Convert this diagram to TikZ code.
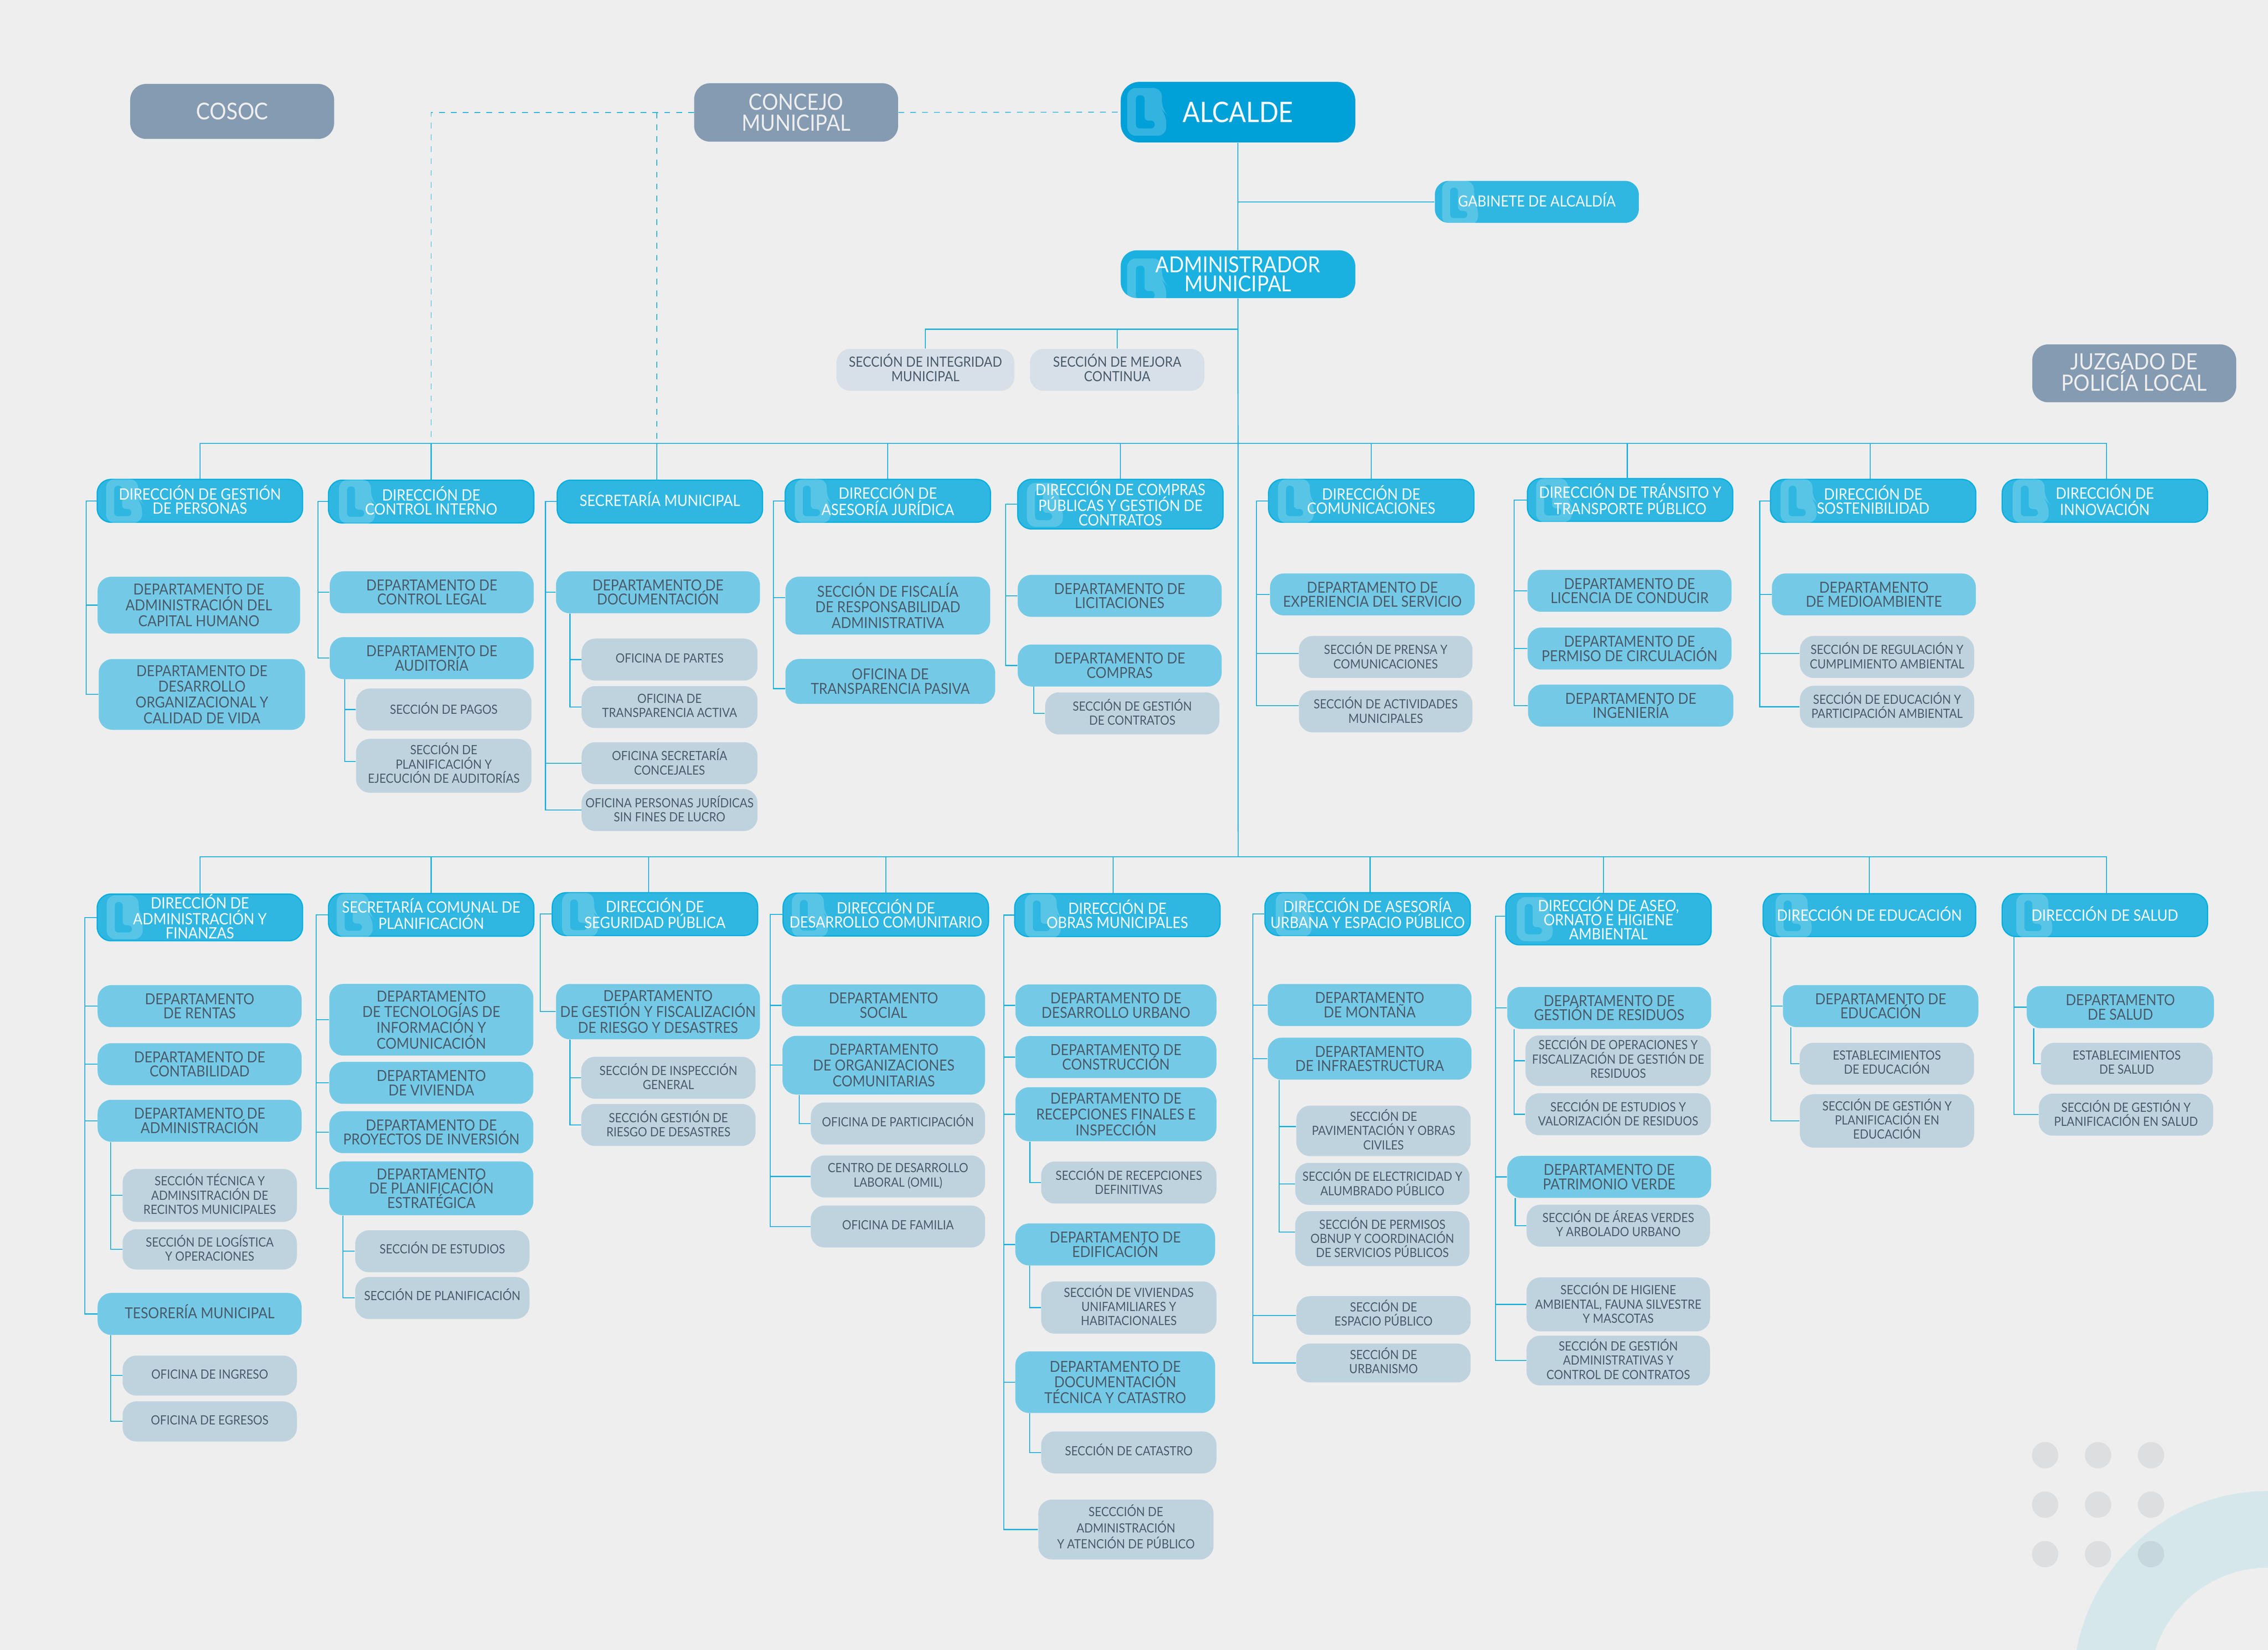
\documentclass[tikz,border=0pt]{standalone}
\usepackage{fontspec}
\setmainfont[FakeStretch=.9]{Lato}
\definecolor{pagebg}{HTML}{EEEEEE}
\definecolor{ringc}{HTML}{D5E7EB}
\definecolor{dotc}{HTML}{5A6E80}
\definecolor{greyc}{HTML}{859BB2}
\definecolor{alcaldec}{HTML}{00A0D8}
\definecolor{adminc}{HTML}{1AB1E0}
\definecolor{dirc}{HTML}{2FB7E1}
\definecolor{dirline}{HTML}{00AEDF}
\definecolor{deptc}{HTML}{74CAE6}
\definecolor{secc}{HTML}{BFD3DF}
\definecolor{topsecc}{HTML}{D7E0E8}
\definecolor{inkc}{HTML}{4A5A6A}
\definecolor{linkc}{HTML}{1AB0DE}
% watermark of the direction boxes: scale, node, left, top
\newcommand{\lgmark}[4][.92]{%
  \begin{scope}
    \clip[rounded corners=9.5pt] (#2.south west) rectangle (#2.north east);
    \fill[white, fill opacity=.2, even odd rule, shift={(#3,#4)}, scale=#1]
      [rounded corners=6pt] (0,0) -- (24,0) -- (24,15) -- (27,18) -- (27,33) -- (0,33) -- cycle
      [rounded corners=2.5pt] (6,5) -- (12,5) -- (12,22.5) -- (19,22.5) -- (19,28) -- (6,28) -- cycle;
  \end{scope}}
\begin{document}
\begin{tikzpicture}[x=1pt, y=-1pt,
  box/.style={rectangle, rounded corners=9.5pt, inner sep=0pt, align=center},
  topbox/.style={box, rounded corners=11pt, minimum width=141pt, minimum height=40pt, fill=greyc, text=pagebg, font={\fontsize{15.5}{14.6}\selectfont}},
  dirbox/.style={box, minimum width=142pt, minimum height=29.6pt, fill=dirc, draw=dirline, line width=.8pt, text=white, text depth=1.4pt, font={\fontsize{10.8}{9.8}\selectfont}},
  deptbox/.style={box, minimum width=141pt, minimum height=29pt, fill=deptc, text=inkc, font={\fontsize{10.5}{9.9}\selectfont}},
  secbox/.style={box, minimum width=120.5pt, minimum height=29pt, fill=secc, text=inkc, text depth=2pt, font={\fontsize{8.8}{9.8}\selectfont}},
  loosedept/.style={font={\fontsize{10.5}{10.9}\selectfont}},
  loosesec/.style={font={\fontsize{8.8}{11.2}\selectfont}},
  link/.style={draw=linkc, line width=.7pt},
  dashlink/.style={draw=linkc, line width=.5pt, dash pattern=on 4pt off 4.2pt}]

  \useasboundingbox (0,0) rectangle (1568,1140.2);
  \fill[pagebg] (0,0) rectangle (1568,1140.2);

  % corner ornament
  \begin{scope}
    \clip (0,0) rectangle (1568,1140.2);
    \fill[ringc, even odd rule] (1568,1165) circle[radius=134.6pt] (1568,1165) circle[radius=81.7pt];
  \end{scope}
  \foreach \x in {1413.9,1450.5,1487.1}
    \foreach \y in {1005.6,1039.8,1074}
      \fill[dotc, fill opacity=.12] (\x,\y) circle[radius=9.1pt];

  % top of the chart
  \node[topbox, minimum height=38pt, font={\fontsize{16}{16}\selectfont}] (cosoc) at (160.5,77) {COSOC};
  \node[topbox, minimum height=40.4pt] (concejo) at (550.4,77.7) {CONCEJO\\MUNICIPAL};
  \node[box, rounded corners=13pt, minimum width=162.2pt, minimum height=41.9pt, fill=alcaldec, text=white, font={\fontsize{19.5}{19.5}\selectfont}] (alcalde) at (855.9,77.5) {ALCALDE};
  \node[dirbox, minimum width=141pt, minimum height=29pt, draw=none, text depth=3pt, font={\fontsize{10.6}{10}\selectfont}] (gabinete) at (1062.5,139.5) {GABINETE DE ALCALDÍA};
  \node[box, rounded corners=11pt, minimum width=162.2pt, minimum height=33pt, fill=adminc, text=white, font={\fontsize{15.2}{13.3}\selectfont}] (admin) at (855.9,189.5) {ADMINISTRADOR\\MUNICIPAL};
  \node[secbox, minimum width=123pt, fill=topsecc, text depth=3pt, font={\fontsize{9.7}{9.8}\selectfont}] (sintegridad) at (639.8,255.6) {SECCIÓN DE INTEGRIDAD\\MUNICIPAL};
  \node[secbox, minimum width=120.6pt, fill=topsecc, text depth=3pt, font={\fontsize{9.7}{9.8}\selectfont}] (smejora) at (772.4,255.6) {SECCIÓN DE MEJORA\\CONTINUA};
  \node[topbox, text depth=1.5pt] (juzgado) at (1475.5,258) {JUZGADO DE\\POLICÍA LOCAL};

  \coordinate (rowsec) at (856,227.5);
  \coordinate (rowa) at (856,306.5);
  \coordinate (rowb) at (856,592);
  \coordinate (dashb) at (454,77.7);

  % first row of directions
  \node[dirbox] (dirpers) at (138.2,346.1) {DIRECCIÓN DE GESTIÓN\\DE PERSONAS};
  \node[dirbox] (dirinterno) at (298.1,346.6) {DIRECCIÓN DE\\CONTROL INTERNO};
  \node[dirbox, text depth=3.5pt] (dirsecmun) at (456.2,346.6) {SECRETARÍA MUNICIPAL};
  \node[dirbox] (dirjuridica) at (613.8,346.1) {DIRECCIÓN DE\\ASESORÍA JURÍDICA};
  \node[dirbox, minimum height=34.3pt] (dircompras) at (774.6,348.4) {DIRECCIÓN DE COMPRAS\\PÚBLICAS Y GESTIÓN DE\\CONTRATOS};
  \node[dirbox] (dircomunic) at (948,346.1) {DIRECCIÓN DE\\COMUNICACIONES};
  \node[dirbox] (dirtransito) at (1127,345.5) {DIRECCIÓN DE TRÁNSITO Y\\TRANSPORTE PÚBLICO};
  \node[dirbox] (dirsosten) at (1295,346.1) {DIRECCIÓN DE\\SOSTENIBILIDAD};
  \node[dirbox] (dirinnov) at (1455.2,346.1) {DIRECCIÓN DE\\INNOVACIÓN};

  \node[deptbox, loosedept, minimum width=140pt, minimum height=39.3pt] (dpcapital) at (137.5,418.2) {DEPARTAMENTO DE\\ADMINISTRACIÓN DEL\\CAPITAL HUMANO};
  \node[deptbox, loosedept, minimum width=142.7pt, minimum height=48.9pt] (dpdesarrollo) at (139.6,479.9) {DEPARTAMENTO DE\\DESARROLLO\\ORGANIZACIONAL Y\\CALIDAD DE VIDA};

  \node[deptbox] (dplegal) at (298.5,409.3) {DEPARTAMENTO DE\\CONTROL LEGAL};
  \node[deptbox] (dpauditoria) at (298.5,454.8) {DEPARTAMENTO DE\\AUDITORÍA};
  \node[secbox, minimum width=121.3pt] (spagos) at (306.8,490.3) {SECCIÓN DE PAGOS};
  \node[secbox, minimum width=121.3pt, minimum height=37.2pt, text depth=4pt] (splanifaud) at (306.8,529.2) {SECCIÓN DE\\PLANIFICACIÓN Y\\EJECUCIÓN DE AUDITORÍAS};

  \node[deptbox] (dpdocum) at (454.9,409.3) {DEPARTAMENTO DE\\DOCUMENTACIÓN};
  \node[secbox, minimum width=121.6pt] (opartes) at (462.9,455.8) {OFICINA DE PARTES};
  \node[secbox, minimum width=121.6pt] (oactiva) at (462.9,488.6) {OFICINA DE\\TRANSPARENCIA ACTIVA};
  \node[secbox, minimum width=121.6pt] (oconcejales) at (462.9,527.4) {OFICINA SECRETARÍA\\CONCEJALES};
  \node[secbox, minimum width=121.6pt] (ojuridicas) at (462.9,559.8) {OFICINA PERSONAS JURÍDICAS\\SIN FINES DE LUCRO};

  \node[deptbox, loosedept, minimum width=141.5pt, minimum height=40pt] (sfiscalia) at (613.8,418.5) {SECCIÓN DE FISCALÍA\\DE RESPONSABILIDAD\\ADMINISTRATIVA};
  \node[deptbox, minimum width=145pt, minimum height=31pt] (otranspasiva) at (615.5,470.9) {OFICINA DE\\TRANSPARENCIA PASIVA};

  \node[deptbox] (dplicit) at (774.1,411.8) {DEPARTAMENTO DE\\LICITACIONES};
  \node[deptbox] (dpcompras) at (774.1,459.9) {DEPARTAMENTO DE\\COMPRAS};
  \node[secbox] (scontratos) at (782.8,493) {SECCIÓN DE GESTIÓN\\DE CONTRATOS};

  \node[deptbox, minimum width=141.5pt] (dpexperiencia) at (948.8,410.8) {DEPARTAMENTO DE\\EXPERIENCIA DEL SERVICIO};
  \node[secbox, minimum width=120pt] (sprensa) at (958,454) {SECCIÓN DE PRENSA Y\\COMUNICACIONES};
  \node[secbox, minimum width=120pt] (sactiv) at (958,491.6) {SECCIÓN DE ACTIVIDADES\\MUNICIPALES};

  \node[deptbox] (dplicencia) at (1126.6,408.3) {DEPARTAMENTO DE\\LICENCIA DE CONDUCIR};
  \node[deptbox] (dppermiso) at (1126.6,448.2) {DEPARTAMENTO DE\\PERMISO DE CIRCULACIÓN};
  \node[deptbox, minimum width=142pt] (dpingenieria) at (1127.4,487.6) {DEPARTAMENTO DE\\INGENIERÍA};

  \node[deptbox] (dpmedio) at (1295.5,410.8) {DEPARTAMENTO\\DE MEDIOAMBIENTE};
  \node[secbox] (sregul) at (1304.6,454) {SECCIÓN DE REGULACIÓN Y\\CUMPLIMIENTO AMBIENTAL};
  \node[secbox] (seduamb) at (1304.6,488.4) {SECCIÓN DE EDUCACIÓN Y\\PARTICIPACIÓN AMBIENTAL};

  % second row of directions
  \node[dirbox, minimum height=32pt] (dirfinanzas) at (138.2,634) {DIRECCIÓN DE\\ADMINISTRACIÓN Y\\FINANZAS};
  \node[dirbox] (dirplanif) at (298.1,632.2) {SECRETARÍA COMUNAL DE\\PLANIFICACIÓN};
  \node[dirbox] (dirseguridad) at (452.8,631.7) {DIRECCIÓN DE\\SEGURIDAD PÚBLICA};
  \node[dirbox] (dircomunit) at (612.4,632) {DIRECCIÓN DE\\DESARROLLO COMUNITARIO};
  \node[dirbox] (dirobras) at (772.5,632.4) {DIRECCIÓN DE\\OBRAS MUNICIPALES};
  \node[dirbox] (dirurbana) at (945.5,631.7) {DIRECCIÓN DE ASESORÍA\\URBANA Y ESPACIO PÚBLICO};
  \node[dirbox, minimum height=35.5pt] (diraseo) at (1112,635.2) {DIRECCIÓN DE ASEO,\\ORNATO E HIGIENE\\AMBIENTAL};
  \node[dirbox, minimum width=147pt, text depth=2pt] (direduc) at (1292.4,632.4) {DIRECCIÓN DE EDUCACIÓN};
  \node[dirbox, text depth=2pt] (dirsalud) at (1455.2,632.4) {DIRECCIÓN DE SALUD};

  \node[deptbox] (dprentas) at (138,695.3) {DEPARTAMENTO\\DE RENTAS};
  \node[deptbox] (dpcontab) at (138,735.4) {DEPARTAMENTO DE\\CONTABILIDAD};
  \node[deptbox] (dpadmin) at (138,774.5) {DEPARTAMENTO DE\\ADMINISTRACIÓN};
  \node[secbox, minimum height=36.6pt] (stecnica) at (145,826.1) {SECCIÓN TÉCNICA Y\\ADMINSITRACIÓN DE\\RECINTOS MUNICIPALES};
  \node[secbox, minimum height=27.8pt] (slogist) at (145,863.4) {SECCIÓN DE LOGÍSTICA\\Y OPERACIONES};
  \node[deptbox, text depth=3.5pt] (dptesor) at (138,908) {TESORERÍA MUNICIPAL};
  \node[secbox, minimum height=27.6pt] (oingreso) at (145,950.6) {OFICINA DE INGRESO};
  \node[secbox, minimum height=27.7pt] (oegreso) at (145,982.3) {OFICINA DE EGRESOS};

  \node[deptbox, loosedept, minimum height=49.5pt] (dptecno) at (298.2,704.7) {DEPARTAMENTO\\DE TECNOLOGÍAS DE\\INFORMACIÓN Y\\COMUNICACIÓN};
  \node[deptbox] (dpvivienda) at (298.2,748.3) {DEPARTAMENTO\\DE VIVIENDA};
  \node[deptbox] (dpproyectos) at (298.2,782.4) {DEPARTAMENTO DE\\PROYECTOS DE INVERSIÓN};
  \node[deptbox, minimum height=37.2pt] (dpplanest) at (298.2,821.2) {DEPARTAMENTO\\DE PLANIFICACIÓN\\ESTRATÉGICA};
  \node[secbox, text depth=5pt] (sestudios) at (305.8,864.7) {SECCIÓN DE ESTUDIOS};
  \node[secbox, text depth=5pt] (splanific) at (305.8,897) {SECCIÓN DE PLANIFICACIÓN};

  \node[deptbox, loosedept, minimum height=38.2pt] (dpgestfisc) at (454.9,699.1) {DEPARTAMENTO\\DE GESTIÓN Y FISCALIZACIÓN\\DE RIESGO Y DESASTRES};
  \node[secbox] (sinspec) at (462.1,744.8) {SECCIÓN DE INSPECCIÓN\\GENERAL};
  \node[secbox] (sriesgo) at (462.1,777.4) {SECCIÓN GESTIÓN DE\\RIESGO DE DESASTRES};

  \node[deptbox, minimum width=140.5pt] (dpsocial) at (610.8,694.8) {DEPARTAMENTO\\SOCIAL};
  \node[deptbox, loosedept, minimum width=140pt, minimum height=40.5pt] (dporganiz) at (611,736.1) {DEPARTAMENTO\\DE ORGANIZACIONES\\COMUNITARIAS};
  \node[secbox, text depth=4pt] (opartic) at (620.8,776.4) {OFICINA DE PARTICIPACIÓN};
  \node[secbox] (ocentro) at (620.8,813) {CENTRO DE DESARROLLO\\LABORAL (OMIL)};
  \node[secbox] (ofamilia) at (620.8,847.6) {OFICINA DE FAMILIA};

  \node[deptbox, minimum width=139pt] (dpurbano) at (771.5,694.8) {DEPARTAMENTO DE\\DESARROLLO URBANO};
  \node[deptbox, minimum width=139pt] (dpconstr) at (771.5,730.5) {DEPARTAMENTO DE\\CONSTRUCCIÓN};
  \node[deptbox, loosedept, minimum width=139pt, minimum height=37.3pt] (dprecep) at (771.5,770) {DEPARTAMENTO DE\\RECEPCIONES FINALES E\\INSPECCIÓN};
  \node[secbox, minimum width=121.2pt] (srecep) at (780.4,817.2) {SECCIÓN DE RECEPCIONES\\DEFINITIVAS};
  \node[deptbox, minimum width=138.1pt] (dpedif) at (771,860) {DEPARTAMENTO DE\\EDIFICACIÓN};
  \node[secbox, minimum width=121.2pt, minimum height=36.1pt, text depth=3pt] (sviviendas) at (780.4,903.6) {SECCIÓN DE VIVIENDAS\\UNIFAMILIARES Y\\HABITACIONALES};
  \node[deptbox, loosedept, minimum width=138.1pt, minimum height=42.5pt] (dptecnica) at (771,955.2) {DEPARTAMENTO DE\\DOCUMENTACIÓN\\TÉCNICA Y CATASTRO};
  \node[secbox, minimum width=121.2pt, text depth=4pt] (scatastro) at (780.4,1003.7) {SECCIÓN DE CATASTRO};
  \node[secbox, loosesec, minimum width=121.1pt, minimum height=41.4pt, text depth=4pt] (satencion) at (778.4,1057) {SECCCIÓN DE\\ADMINISTRACIÓN\\Y ATENCIÓN DE PÚBLICO};

  \node[deptbox, minimum width=140.8pt] (dpmontana) at (946.9,694.5) {DEPARTAMENTO\\DE MONTAÑA};
  \node[deptbox, minimum width=140.8pt] (dpinfra) at (946.9,731.6) {DEPARTAMENTO\\DE INFRAESTRUCTURA};
  \node[secbox, minimum height=34.9pt] (spavim) at (956.5,781.5) {SECCIÓN DE\\PAVIMENTACIÓN Y OBRAS\\CIVILES};
  \node[secbox] (selectr) at (955.7,818.1) {SECCIÓN DE ELECTRICIDAD Y\\ALUMBRADO PÚBLICO};
  \node[secbox, minimum height=37.9pt] (spermisos) at (955.7,856) {SECCIÓN DE PERMISOS\\OBNUP Y COORDINACIÓN\\DE SERVICIOS PÚBLICOS};
  \node[secbox, minimum height=26.8pt, text depth=3.5pt] (sespacio) at (956.5,909.1) {SECCIÓN DE\\ESPACIO PÚBLICO};
  \node[secbox, minimum height=26.9pt, text depth=3.5pt] (surbanismo) at (956.5,941.9) {SECCIÓN DE\\URBANISMO};

  \node[deptbox] (dpresiduos) at (1112.5,696.5) {DEPARTAMENTO DE\\GESTIÓN DE RESIDUOS};
  \node[secbox, minimum width=128.1pt, minimum height=34.9pt, text depth=4pt] (soperac) at (1118.7,733) {SECCIÓN DE OPERACIONES Y\\FISCALIZACIÓN DE GESTIÓN DE\\RESIDUOS};
  \node[secbox, minimum width=128.1pt] (sestres) at (1118.7,770) {SECCIÓN DE ESTUDIOS Y\\VALORIZACIÓN DE RESIDUOS};
  \node[deptbox] (dppatrimonio) at (1112.5,813.3) {DEPARTAMENTO DE\\PATRIMONIO VERDE};
  \node[secbox, minimum width=126.8pt, text depth=3pt] (sareas) at (1118.8,847) {SECCIÓN DE ÁREAS VERDES\\Y ARBOLADO URBANO};
  \node[secbox, minimum width=126.8pt, minimum height=37.3pt] (shigiene) at (1118.8,901.4) {SECCIÓN DE HIGIENE\\AMBIENTAL, FAUNA SILVESTRE\\Y MASCOTAS};
  \node[secbox, minimum width=126.8pt, minimum height=34.4pt] (sgestadm) at (1118.8,940.2) {SECCIÓN DE GESTIÓN\\ADMINISTRATIVAS Y\\CONTROL DE CONTRATOS};

  \node[deptbox, minimum width=135.1pt] (dpeduc) at (1300.2,695.3) {DEPARTAMENTO DE\\EDUCACIÓN};
  \node[secbox] (sestedu) at (1304.5,735.1) {ESTABLECIMIENTOS\\DE EDUCACIÓN};
  \node[secbox, minimum height=36.9pt, text depth=3pt] (sgestedu) at (1304.6,774.6) {SECCIÓN DE GESTIÓN Y\\PLANIFICACIÓN EN\\EDUCACIÓN};

  \node[deptbox, minimum width=129.4pt] (dpsalud) at (1465.9,696) {DEPARTAMENTO\\DE SALUD};
  \node[secbox, minimum width=118.7pt] (sestsal) at (1470.3,735.1) {ESTABLECIMIENTOS\\DE SALUD};
  \node[secbox] (sgestsal) at (1469.8,770.3) {SECCIÓN DE GESTIÓN Y\\PLANIFICACIÓN EN SALUD};

  % watermarks
  \lgmark[1]{alcalde}{779.3}{60.8}
  \lgmark[1]{admin}{779.3}{178.6}
  \lgmark{gabinete}{997}{125}
  \lgmark{dirpers}{73.4}{331}
  \lgmark{dirinterno}{234.4}{331.5}
  \lgmark{dirjuridica}{549.5}{331}
  \lgmark{dircompras}{710}{333.7}
  \lgmark{dircomunic}{883.5}{331}
  \lgmark{dirtransito}{1062}{330.5}
  \lgmark{dirsosten}{1231}{331}
  \lgmark{dirinnov}{1391.5}{331}
  \lgmark{dirfinanzas}{73.8}{618.7}
  \lgmark{dirplanif}{232.8}{617.5}
  \lgmark{dirseguridad}{388.6}{617}
  \lgmark{dircomunit}{547.5}{617.3}
  \lgmark{dirobras}{708.5}{617.7}
  \lgmark{dirurbana}{882}{617}
  \lgmark{diraseo}{1048.6}{620}
  \lgmark{direduc}{1227.6}{617.7}
  \lgmark{dirsalud}{1394}{617.7}

  % spine
  \draw[link] (alcalde.south) -- (admin.north);
  \draw[link] (alcalde.south |- gabinete.west) -- (gabinete.west);
  \draw[link] (admin.south) -- (rowb);
  \draw[link] (rowsec) -| (sintegridad.north);
  \draw[link] (rowsec) -| (smejora.north);
  \draw[dashlink] (concejo.east) -- (alcalde.west);
  \draw[dashlink] (concejo.west) -| (dirinterno.north |- rowa);
  \draw[dashlink] (dashb) -- (dashb |- rowa);

  \draw[link] (rowa) -| (dirpers.north);
  \draw[link] (rowa) -| (dirinterno.north);
  \draw[link] (rowa) -| ([xshift=-2pt]dirsecmun.north);
  \draw[link] (rowa) -| (dirjuridica.north);
  \draw[link] (rowa) -| (dircompras.north);
  \draw[link] (rowa) -| (dircomunic.north);
  \draw[link] (rowa) -| ([xshift=-2pt]dirtransito.north);
  \draw[link] (rowa) -| ([xshift=-2pt]dirsosten.north);
  \draw[link] (rowa) -| ([xshift=1.2pt]dirinnov.north);

  \draw[link] (rowb) -| (dirfinanzas.north);
  \draw[link] (rowb) -| (dirplanif.north);
  \draw[link] (rowb) -| ([xshift=-4.3pt]dirseguridad.north);
  \draw[link] (rowb) -| (dircomunit.north);
  \draw[link] (rowb) -| ([xshift=-2.9pt]dirobras.north);
  \draw[link] (rowb) -| ([xshift=1.7pt]dirurbana.north);
  \draw[link] (rowb) -| ([xshift=-3.5pt]diraseo.north);
  \draw[link] (rowb) -| (direduc.north);
  \draw[link] (rowb) -| ([xshift=1.2pt]dirsalud.north);

  % first row, branches
  \draw[link] (dirpers.west) -- ++(-7.2,0) |- (dpcapital.west);
  \draw[link] (dirpers.west) -- ++(-7.2,0) |- (dpdesarrollo.west);

  \draw[link] (dirinterno.west) -- ++(-6.8,0) |- (dplegal.west);
  \draw[link] (dirinterno.west) -- ++(-6.8,0) |- (dpauditoria.west);
  \draw[link] ([xshift=10.5pt]dpauditoria.south west) |- (spagos.west);
  \draw[link] ([xshift=10.5pt]dpauditoria.south west) |- ([yshift=3pt]splanifaud.west);

  \draw[link] (dirsecmun.west) -- ++(-7.7,0) |- (dpdocum.west);
  \draw[link] (dirsecmun.west) -- ++(-7.7,0) |- (oconcejales.west);
  \draw[link] (dirsecmun.west) -- ++(-7.7,0) |- (ojuridicas.west);
  \draw[link] ([xshift=9.8pt]dpdocum.south west) |- (opartes.west);
  \draw[link] ([xshift=9.8pt]dpdocum.south west) |- (oactiva.west);

  \draw[link] (dirjuridica.west) -- ++(-7.8,0) |- ([yshift=5.5pt]sfiscalia.west);
  \draw[link] (dirjuridica.west) -- ++(-7.8,0) |- ([yshift=-5pt]otranspasiva.west);

  \draw[link] (dircompras.west) -- ++(-7.9,0) |- (dplicit.west);
  \draw[link] (dircompras.west) -- ++(-7.9,0) |- (dpcompras.west);
  \draw[link] ([xshift=11.3pt]dpcompras.south west) |- (scontratos.west);

  \draw[link] (dircomunic.west) -- ++(-8,0) |- (dpexperiencia.west);
  \draw[link] (dircomunic.west) -- ++(-8,0) |- ([yshift=2.5pt]sprensa.west);
  \draw[link] (dircomunic.west) -- ++(-8,0) |- ([yshift=4pt]sactiv.west);

  \draw[link] (dirtransito.west) -- ++(-8.7,0) |- (dplicencia.west);
  \draw[link] (dirtransito.west) -- ++(-8.7,0) |- (dppermiso.west);
  \draw[link] (dirtransito.west) -- ++(-8.7,0) |- (dpingenieria.west);

  \draw[link] (dirsosten.west) -- ++(-7,0) |- (dpmedio.west);
  \draw[link] (dirsosten.west) -- ++(-7,0) |- ([yshift=2.5pt]sregul.west);
  \draw[link] (dirsosten.west) -- ++(-7,0) |- (seduamb.west);

  % second row, branches
  \draw[link] (dirfinanzas.west) -- ++(-8.2,0) |- (dprentas.west);
  \draw[link] (dirfinanzas.west) -- ++(-8.2,0) |- (dpcontab.west);
  \draw[link] (dirfinanzas.west) -- ++(-8.2,0) |- (dpadmin.west);
  \draw[link] (dirfinanzas.west) -- ++(-8.2,0) |- (dptesor.west);
  \draw[link] ([xshift=9.3pt]dpadmin.south west) |- (stecnica.west);
  \draw[link] ([xshift=9.3pt]dpadmin.south west) |- (slogist.west);
  \draw[link] ([xshift=9.3pt]dptesor.south west) |- (oingreso.west);
  \draw[link] ([xshift=9.3pt]dptesor.south west) |- (oegreso.west);

  \draw[link] (dirplanif.west) -- ++(-8.1,0) |- (dptecno.west);
  \draw[link] (dirplanif.west) -- ++(-8.1,0) |- (dpvivienda.west);
  \draw[link] (dirplanif.west) -- ++(-8.1,0) |- (dpproyectos.west);
  \draw[link] (dirplanif.west) -- ++(-8.1,0) |- (dpplanest.west);
  \draw[link] ([xshift=9.6pt]dpplanest.south west) |- (sestudios.west);
  \draw[link] ([xshift=9.6pt]dpplanest.south west) |- (splanific.west);

  \draw[link] (dirseguridad.west) -- ++(-7.9,0) |- (dpgestfisc.west);
  \draw[link] ([xshift=9.8pt]dpgestfisc.south west) |- (sinspec.west);
  \draw[link] ([xshift=9.8pt]dpgestfisc.south west) |- (sriesgo.west);

  \draw[link] (dircomunit.west) -- ++(-8.6,0) |- (dpsocial.west);
  \draw[link] (dircomunit.west) -- ++(-8.6,0) |- (dporganiz.west);
  \draw[link] (dircomunit.west) -- ++(-8.6,0) |- (ocentro.west);
  \draw[link] (dircomunit.west) -- ++(-8.6,0) |- (ofamilia.west);
  \draw[link] ([xshift=11.7pt]dporganiz.south west) |- (opartic.west);

  \draw[link] (dirobras.west) -- ++(-7.1,0) |- (dpurbano.west);
  \draw[link] (dirobras.west) -- ++(-7.1,0) |- (dpconstr.west);
  \draw[link] (dirobras.west) -- ++(-7.1,0) |- (dprecep.west);
  \draw[link] (dirobras.west) -- ++(-7.1,0) |- (dpedif.west);
  \draw[link] (dirobras.west) -- ++(-7.1,0) |- (dptecnica.west);
  \draw[link] (dirobras.west) -- ++(-7.1,0) |- (satencion.west);
  \draw[link] ([xshift=10.2pt]dprecep.south west) |- (srecep.west);
  \draw[link] ([xshift=10.2pt]dpedif.south west) |- (sviviendas.west);
  \draw[link] ([xshift=10.2pt]dptecnica.south west) |- (scatastro.west);

  \draw[link] (dirurbana.west) -- ++(-7.9,0) |- (dpmontana.west);
  \draw[link] (dirurbana.west) -- ++(-7.9,0) |- (dpinfra.west);
  \draw[link] (dirurbana.west) -- ++(-7.9,0) |- (sespacio.west);
  \draw[link] (dirurbana.west) -- ++(-7.9,0) |- (surbanismo.west);
  \draw[link] ([xshift=8.1pt]dpinfra.south west) |- ([yshift=3pt]spavim.west);
  \draw[link] ([xshift=8.1pt]dpinfra.south west) |- (selectr.west);
  \draw[link] ([xshift=8.1pt]dpinfra.south west) |- ([yshift=4.5pt]spermisos.west);

  \draw[link] ([yshift=2pt]diraseo.west) -- ++(-6.7,0) |- (dpresiduos.west);
  \draw[link] ([yshift=2pt]diraseo.west) -- ++(-6.7,0) |- (dppatrimonio.west);
  \draw[link] ([yshift=2pt]diraseo.west) -- ++(-6.7,0) |- (shigiene.west);
  \draw[link] ([yshift=2pt]diraseo.west) -- ++(-6.7,0) |- (sgestadm.west);
  \draw[link] ([xshift=5pt]dpresiduos.south west) |- (soperac.west);
  \draw[link] ([xshift=5pt]dpresiduos.south west) |- (sestres.west);
  \draw[link] ([xshift=5.8pt]dppatrimonio.south west) |- (sareas.west);

  \draw[link] ([xshift=5.7pt]direduc.south west) |- (dpeduc.west);
  \draw[link] ([xshift=5.7pt]direduc.south west) |- (sgestedu.west);
  \draw[link] ([xshift=5.7pt]dpeduc.south west) |- (sestedu.west);

  \draw[link] ([xshift=8.6pt]dirsalud.south west) |- (dpsalud.west);
  \draw[link] ([xshift=8.6pt]dirsalud.south west) |- (sgestsal.west);
  \draw[link] ([xshift=5pt]dpsalud.south west) |- (sestsal.west);

\end{tikzpicture}
\end{document}
